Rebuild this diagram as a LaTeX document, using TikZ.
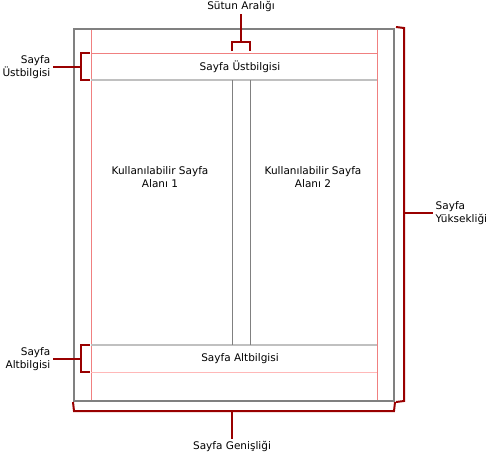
\documentclass[tikz,border=0pt]{standalone}
\usepackage{fontspec}
\setmainfont{DejaVu Sans}
\usetikzlibrary{calc}
\definecolor{pagegray}{RGB}{128,128,128}
\definecolor{guidegray}{RGB}{192,192,192}
\definecolor{marginred}{RGB}{240,128,128}
\definecolor{marginpink}{RGB}{255,184,184}
\definecolor{bracketred}{RGB}{153,0,0}
\tikzstyle{pagebox} = [draw=pagegray, line width=2pt, minimum width=320pt, minimum height=372pt, inner sep=0pt]
\tikzstyle{margin} = [draw=marginred, line width=1pt]
\tikzstyle{guide} = [draw=guidegray, line width=2pt]
\tikzstyle{column} = [draw=pagegray, line width=1pt]
\tikzstyle{bracket} = [draw=bracketred, line width=2pt]
\tikzstyle{lbl} = [font=\fontsize{10.5}{12.5}\selectfont, inner sep=2.5pt]

\begin{document}
\begin{tikzpicture}[x=1pt, y=-1pt]
            \useasboundingbox (0,0) rectangle (486,453);
            % margins and guide lines
            \draw [margin] (91,29) -- (91,401);
            \draw [margin] (377,29) -- (377,401);
            \draw [margin] (91,53) -- (377,53);
            \draw [draw=marginpink, line width=1pt] (91,372) -- (377,372);
            \draw [guide] (91,80) -- (377,80);
            \draw [guide] (91,345) -- (377,345);
            \draw [column] (232,80) -- (232,345);
            \draw [column] (250,80) -- (250,345);
            \node (page) [pagebox] at (234,215) {};
            % texts on the page
            \node (header) [lbl] at (240,67) {Sayfa Üstbilgisi};
            \node (footer) [lbl] at (240,359) {Sayfa Altbilgisi};
            \node (area1) [lbl, align=center] at (160,177) {Kullanılabilir Sayfa\\Alanı 1};
            \node (area2) [lbl, align=center] at (313,177) {Kullanılabilir Sayfa\\Alanı 2};
            % labels outside
            \node (gaplbl) [lbl, anchor=south] at (241,14) {Sütun Aralığı};
            \node (headerlbl) [lbl, align=right, anchor=east] at (53,67) {Sayfa\\Üstbilgisi};
            \node (footerlbl) [lbl, align=right, anchor=east] at (53,359) {Sayfa\\Altbilgisi};
            \node (heightlbl) [lbl, align=left, anchor=west] at (433,213) {Sayfa\\Yüksekliği};
            \node (widthlbl) [lbl, anchor=north] at (232,439) {Sayfa Genişliği};
            % brackets
            \coordinate (gap) at (241,42);
            \coordinate (hb) at (81,67);
            \coordinate (fb) at (81,359);
            \coordinate (vb) at (404,213);
            \coordinate (wb) at (232,411);
            \draw [bracket] (232,51) -- (232,42) -- (250,42) -- (250,51);
            \draw [bracket] (gap) -- (gaplbl.south);
            \draw [bracket] (90,53) -- (81,53) -- (81,80) -- (90,80);
            \draw [bracket] (hb) -- (headerlbl.east);
            \draw [bracket] (90,345) -- (81,345) -- (81,372) -- (90,372);
            \draw [bracket] (fb) -- (footerlbl.east);
            \draw [bracket] ($(page.north east)+(1,-1)$) -- (404,28) -- (404,401) -- ($(page.south east)+(1,0)$);
            \draw [bracket] (vb) -- (heightlbl.west);
            \draw [bracket] (page.south west) -- (74,411) -- (394,411) -- (page.south east);
            \draw [bracket] (wb) -- (widthlbl.north);
        \end{tikzpicture}
\end{document}
